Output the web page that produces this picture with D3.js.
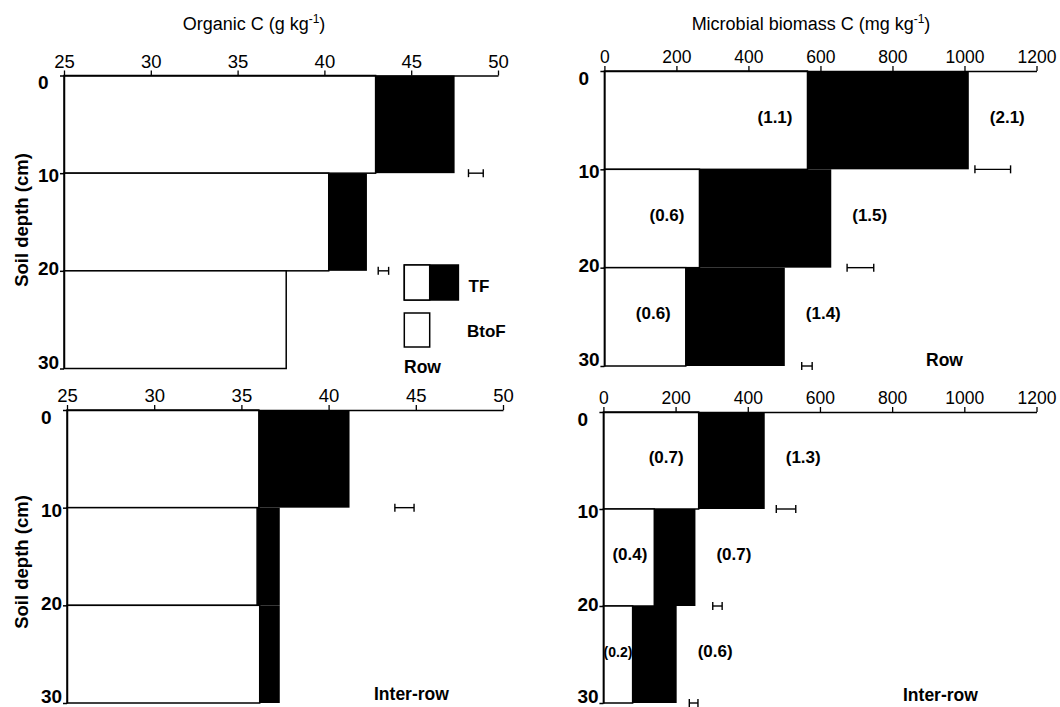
<!DOCTYPE html>
<html>
<head>
<meta charset="utf-8">
<script src="https://cdn.jsdelivr.net/npm/d3@7"></script>
<style>
  html, body { margin: 0; padding: 0; background: #fff; }
  svg { display: block; }
  text { font-family: "Liberation Sans", Arial, sans-serif; fill: #000; }
</style>
</head>
<body>
<svg id="chart" width="1060" height="707"></svg>
<script>
// ---------------- DATA ----------------
const depthEdges = [0, 10, 20, 30];
const depthTicks = [0, 10, 20, 30];
const organicTicks = [25, 30, 35, 40, 45, 50];
const microbialTicks = [0, 200, 400, 600, 800, 1000, 1200];

// Organic C (g kg-1), Row
const organicRowBtoF = [42.95, 40.25, 37.8];
const organicRowTF = [47.5, 42.45, 37.6];
const organicRowLsd = [[48.3, 49.15], [43.1, 43.7], null];

// Organic C (g kg-1), Inter-row
const organicInterBtoF = [36.0, 35.9, 36.05];
const organicInterTF = [41.2, 37.2, 37.2];
const organicInterLsd = [[43.8, 44.9], null, null];

// Microbial biomass C (mg kg-1), Row
const microRowBtoF = [564, 264, 226];
const microRowTF = [1012, 630, 501];
const microRowLsd = [[1029, 1128], [674, 748], [548, 577]];
const microRowBtoFLabels = ["(1.1)", "(0.6)", "(0.6)"];
const microRowTFLabels = ["(2.1)", "(1.5)", "(1.4)"];

// Microbial biomass C (mg kg-1), Inter-row
const microInterBtoF = [264, 141, 81];
const microInterTF = [447, 255, 203];
const microInterLsd = [[479, 533], [303, 329], [238, 262]];
const microInterBtoFLabels = ["(0.7)", "(0.4)", "(0.2)"];
const microInterTFLabels = ["(1.3)", "(0.7)", "(0.6)"];

const legendLabels = ["TF", "BtoF"];
const panelTitles = ["Row", "Inter-row"];

// ---------------- LAYOUT ----------------
const svg = d3.select("#chart");

const panels = [
  { x0: 64, x1: 498, y0: 75.5, y1: 368.5, domain: [25, 50], ticks: organicTicks, tickFont: 18.5,
    btof: organicRowBtoF, tf: organicRowTF, lsd: organicRowLsd, tag: panelTitles[0], tagX: 404, tagY: 373, legend: true },
  { x0: 604.4, x1: 1036.5, y0: 71, y1: 366, domain: [0, 1200], ticks: microbialTicks, tickFont: 17.5,
    btof: microRowBtoF, tf: microRowTF, lsd: microRowLsd, lbB: microRowBtoFLabels, lbT: microRowTFLabels,
    tag: panelTitles[0], tagX: 926, tagY: 366 },
  { x0: 67, x1: 503, y0: 410, y1: 703, domain: [25, 50], ticks: organicTicks, tickFont: 18.5,
    btof: organicInterBtoF, tf: organicInterTF, lsd: organicInterLsd, tag: panelTitles[1], tagX: 374, tagY: 700 },
  { x0: 603.4, x1: 1036.5, y0: 412, y1: 703, domain: [0, 1200], ticks: microbialTicks, tickFont: 17.5,
    btof: microInterBtoF, tf: microInterTF, lsd: microInterLsd, lbB: microInterBtoFLabels, lbT: microInterTFLabels,
    tag: panelTitles[1], tagX: 903, tagY: 701 }
];

function measure(txt, size, weight) {
  const t = svg.append("text").attr("font-size", size).attr("font-weight", weight).text(txt);
  const w = t.node().getComputedTextLength();
  t.remove();
  return w;
}

panels.forEach(p => {
  const g = svg.append("g");
  const x = d3.scaleLinear().domain(p.domain).range([p.x0, p.x1]);
  const y = d3.scaleLinear().domain([0, 30]).range([p.y0, p.y1]);
  const xmin = p.domain[0];

  const layers = p.btof.map((v, i) => ({
    top: depthEdges[i], bottom: depthEdges[i + 1], btof: v, tf: p.tf[i], lsd: p.lsd[i],
    lb: p.lbB ? p.lbB[i] : null, lt: p.lbT ? p.lbT[i] : null
  }));

  // TF (black) bars
  g.selectAll("rect.tf").data(layers).join("rect").attr("class", "tf")
    .attr("x", x(xmin)).attr("y", d => y(d.top))
    .attr("width", d => Math.max(0, x(d.tf) - x(xmin)))
    .attr("height", d => y(d.bottom) - y(d.top))
    .attr("fill", "#000");

  // BtoF (white) bars on top
  g.selectAll("rect.btof").data(layers).join("rect").attr("class", "btof")
    .attr("x", x(xmin)).attr("y", d => y(d.top))
    .attr("width", d => x(d.btof) - x(xmin))
    .attr("height", d => y(d.bottom) - y(d.top))
    .attr("fill", "#fff").attr("stroke", "#000").attr("stroke-width", 1.5);

  // Top axis
  const ax = g.append("g").attr("transform", `translate(0,${p.y0})`)
    .call(d3.axisTop(x).tickValues(p.ticks).tickFormat(d3.format("d"))
      .tickSize(5).tickSizeOuter(0).tickPadding(3));
  ax.select(".domain").attr("stroke-width", 1.5);
  ax.selectAll(".tick line").attr("stroke-width", 1.3);
  ax.selectAll("text").attr("font-size", p.tickFont)
    .attr("font-family", "Liberation Sans, Arial, sans-serif");

  // Left axis
  const ay = g.append("g").attr("transform", `translate(${p.x0},0)`)
    .call(d3.axisLeft(y).tickValues(depthTicks).tickSize(4).tickSizeOuter(0).tickFormat(""));
  ay.select(".domain").attr("stroke-width", 1.5);
  ay.selectAll(".tick line").attr("stroke-width", 1.5);

  // Depth labels (bold, left aligned)
  g.selectAll("text.depth").data(depthTicks).join("text").attr("class", "depth")
    .attr("x", p.x0 - 26)
    .attr("y", d => y(d) + 7 - d * 0.45)
    .attr("dominant-baseline", "central")
    .attr("font-size", 19).attr("font-weight", "bold")
    .text(d => d);

  // LSD bars at bottom edge of each layer
  layers.filter(d => d.lsd).forEach(d => {
    const yy = y(d.bottom);
    const a = x(d.lsd[0]), b = x(d.lsd[1]);
    g.append("line").attr("x1", a).attr("x2", b).attr("y1", yy).attr("y2", yy)
      .attr("stroke", "#000").attr("stroke-width", 1.4);
    [a, b].forEach(xx => g.append("line").attr("x1", xx).attr("x2", xx)
      .attr("y1", yy - 4).attr("y2", yy + 4).attr("stroke", "#000").attr("stroke-width", 1.4));
  });

  // Value labels
  layers.forEach(d => {
    const ym = y((d.top + d.bottom) / 2) - 3;
    if (d.lb) {
      const avail = x(d.btof) - x(xmin);
      const w = measure(d.lb, 17, "bold");
      if (avail < w + 12) {
        g.append("text").attr("x", (x(xmin) + x(d.btof)) / 2).attr("y", ym)
          .attr("text-anchor", "middle").attr("dominant-baseline", "central")
          .attr("font-size", 14).attr("font-weight", "bold").text(d.lb);
      } else {
        const endX = Math.max(x(d.btof) - 15, x(xmin) + w + 9);
        g.append("text").attr("x", endX).attr("y", ym)
          .attr("text-anchor", "end").attr("dominant-baseline", "central")
          .attr("font-size", 17).attr("font-weight", "bold").text(d.lb);
      }
    }
    if (d.lt) {
      g.append("text").attr("x", x(d.tf) + 21).attr("y", ym)
        .attr("text-anchor", "start").attr("dominant-baseline", "central")
        .attr("font-size", 17).attr("font-weight", "bold").text(d.lt);
    }
  });

  // Panel tag
  g.append("text").attr("x", p.tagX).attr("y", p.tagY)
    .attr("font-size", 17.5).attr("font-weight", "bold").text(p.tag);

  // Legend
  if (p.legend) {
    const lx = 404.3, lw = 25.4;
    g.append("rect").attr("x", lx).attr("y", 265).attr("width", lw * 2.13).attr("height", 35)
      .attr("fill", "#000").attr("stroke", "#000").attr("stroke-width", 1.5);
    g.append("rect").attr("x", lx).attr("y", 265).attr("width", lw).attr("height", 35)
      .attr("fill", "#fff").attr("stroke", "#000").attr("stroke-width", 1.5);
    g.append("rect").attr("x", lx).attr("y", 313).attr("width", lw).attr("height", 34)
      .attr("fill", "#fff").attr("stroke", "#000").attr("stroke-width", 1.5);
    g.append("text").attr("x", 468.5).attr("y", 286).attr("dominant-baseline", "central")
      .attr("font-size", 17).attr("font-weight", "bold").text(legendLabels[0]);
    g.append("text").attr("x", 467).attr("y", 331).attr("dominant-baseline", "central")
      .attr("font-size", 17).attr("font-weight", "bold").text(legendLabels[1]);
  }
});

// Y axis titles
[[21, 220], [21, 562]].forEach(([cx, cy]) => {
  svg.append("text").attr("transform", `translate(${cx},${cy}) rotate(-90)`)
    .attr("text-anchor", "middle").attr("dominant-baseline", "central")
    .attr("font-size", 18.5).attr("font-weight", "bold").text("Soil depth (cm)");
});

// X axis titles with superscript
function titleWithSup(cx, cy, main) {
  const t = svg.append("text").attr("x", cx).attr("y", cy).attr("text-anchor", "middle")
    .attr("font-size", 18);
  t.append("tspan").text(main);
  t.append("tspan").attr("dy", -7).attr("font-size", 12).text("-1");
  t.append("tspan").attr("dy", 7).text(")");
}
titleWithSup(254, 30, "Organic C (g kg");
titleWithSup(811, 30, "Microbial biomass C (mg kg");
</script>
</body>
</html>
